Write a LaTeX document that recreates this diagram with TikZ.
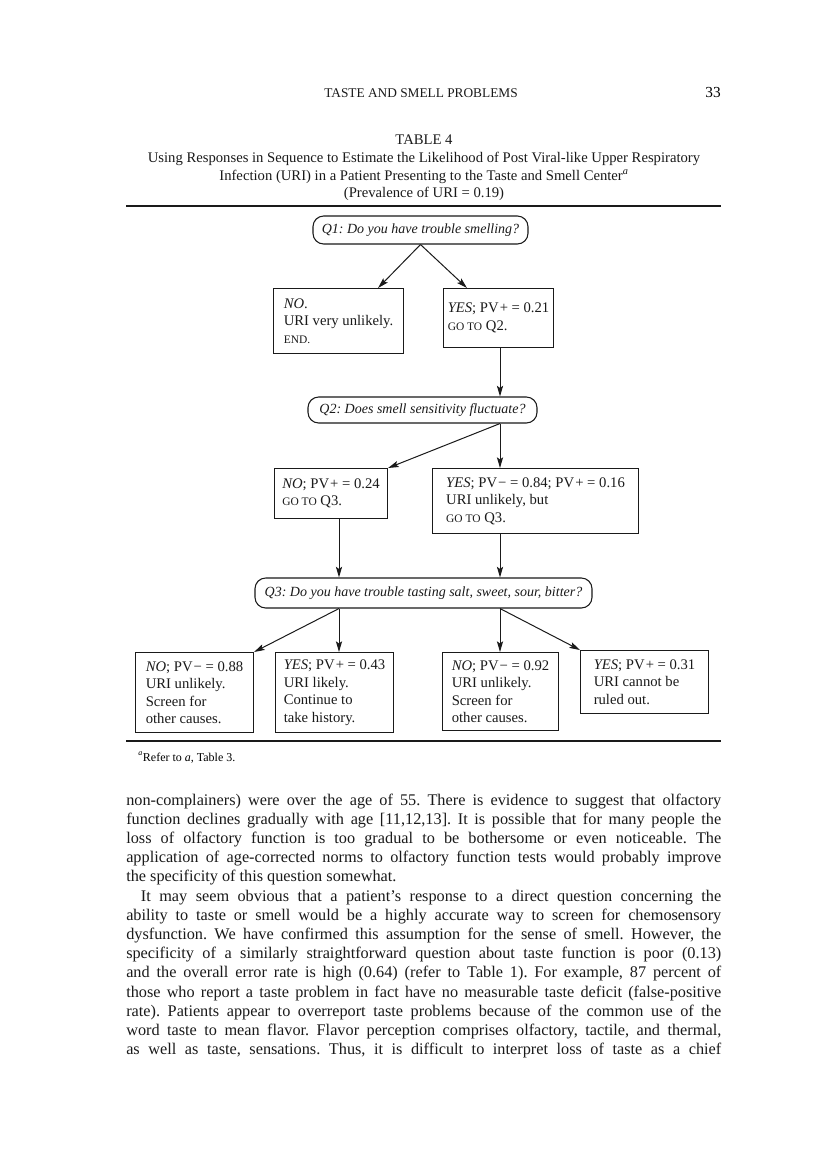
\documentclass[tikz,border=0pt]{standalone}
\usepackage{fontspec}
\setmainfont{Liberation Serif}
\usetikzlibrary{arrows.meta,calc}
\definecolor{inkblack}{HTML}{1A1A1A}
\tikzset{
  question/.style ={rectangle, rounded corners=8pt, draw=inkblack, line width=0.8pt,
                    inner sep=0pt, font=\fontsize{10.5}{12}\selectfont\itshape, text=inkblack},
  answer/.style   ={rectangle, draw=inkblack, line width=0.8pt, anchor=north west,
                    align=left, inner sep=0pt, font=\fontsize{11}{13.1}\selectfont, text=inkblack},
  flow/.style     ={draw=inkblack, line width=0.75pt,
                    -{Stealth[length=8pt,width=4.6pt,inset=1.6pt]}},
  hrule/.style    ={draw=inkblack, line width=1.5pt},
  bodytext/.style ={anchor=base west, inner sep=0pt, font=\fontsize{12.2}{14.4}\selectfont, text=inkblack},
  titletext/.style={anchor=base, inner sep=0pt, font=\fontsize{11}{13}\selectfont, text=inkblack},
}
\newcommand{\smallcap}[1]{{\fontsize{8.6}{10}\selectfont #1}}
\newcommand{\pvplus}{PV\kern0.8pt+}
\newcommand{\pvminus}{PV\kern0.8pt−}
\newcommand{\fullline}[3]{\node[bodytext] (#1) at (126,#2) {\makebox[446.25pt][s]{#3}};}
\newcommand{\lastline}[3]{\node[bodytext] (#1) at (126,#2) {#3};}
\frenchspacing

\begin{document}
\begin{tikzpicture}[x=0.75pt, y=-0.75pt]
\fill[white] (0,0) rectangle (816,1158);
\useasboundingbox (0,0) rectangle (816,1158);

% ---------------- running head ----------------
\node[titletext, font=\fontsize{10}{12}\selectfont] (runhead) at (421,97) {TASTE AND SMELL PROBLEMS};
\node[anchor=base east, inner sep=0pt, font=\fontsize{11.5}{13}\selectfont] (pageno) at (721,97) {33};

% ---------------- table title ----------------
\node[titletext] (tabno)  at (424,144) {TABLE 4};
\node[titletext] (title1) at (424,162) {Using Responses in Sequence to Estimate the Likelihood of Post Viral-like Upper Respiratory};
\node[titletext] (title2) at (424,180) {Infection (URI) in a Patient Presenting to the Taste and Smell Center\textsuperscript{\itshape a}};
\node[titletext] (title3) at (424,197) {(Prevalence of URI = 0.19)};
\draw[hrule] (126,206) -- (721,206);

% ---------------- questions ----------------
\node[question, minimum width=161.25pt, minimum height=21pt]   (q1) at (420.5,230) {Q1: Do you have trouble smelling?};
\node[question, minimum width=171.75pt, minimum height=19.5pt] (q2) at (422.5,410) {Q2: Does smell sensitivity fluctuate?};
\node[question, minimum width=252.75pt, minimum height=22.5pt] (q3) at (423.5,593) {Q3: Do you have trouble tasting salt, sweet, sour, bitter?};

% ---------------- answers ----------------
\node[answer, minimum width=97.5pt,  minimum height=48.75pt] (no1)  at (273,288)
      {\textit{NO}.\\URI very unlikely.\\\smallcap{END.}};
\node[answer, minimum width=82.5pt,  minimum height=44.25pt] (yes1) at (443,288)
      {\textit{YES}; \pvplus{} = 0.21\\\smallcap{GO TO} Q2.};
\node[answer, minimum width=84.75pt, minimum height=37.5pt]  (no2)  at (274,468)
      {\textit{NO}; \pvplus{} = 0.24\\\smallcap{GO TO} Q3.};
\node[answer, minimum width=154.5pt, minimum height=48.75pt] (yes2) at (432,468)
      {\textit{YES}; \pvminus{} = 0.84; \pvplus{} = 0.16\\URI unlikely, but\\\smallcap{GO TO} Q3.};
\node[answer, minimum width=88.5pt,  minimum height=60pt]    (b1)   at (135,652)
      {\textit{NO}; \pvminus{} = 0.88\\URI unlikely.\\Screen for\\other causes.};
\node[answer, minimum width=88.5pt,  minimum height=60pt]    (b2)   at (275,652)
      {\textit{YES}; \pvplus{} = 0.43\\URI likely.\\Continue to\\take history.};
\node[answer, minimum width=87pt,    minimum height=58.5pt]  (b3)   at (442,652)
      {\textit{NO}; \pvminus{} = 0.92\\URI unlikely.\\Screen for\\other causes.};
\node[answer, minimum width=96pt,    minimum height=47.25pt] (b4)   at (580,650)
      {\textit{YES}; \pvplus{} = 0.31\\URI cannot be\\ruled out.};

% ---------------- connectors ----------------
\coordinate (lcol) at (339,0);
\coordinate (rcol) at (500,0);
\draw[flow] (q1.south) -- ($(no1.north east)+(-26,0)$);
\draw[flow] (q1.south) -- ($(yes1.north west)+(24,0)$);
\draw[flow] (rcol |- yes1.south) -- (rcol |- q2.north);
\draw[flow] (rcol |- q2.south) -- (no2.north east);
\draw[flow] (rcol |- q2.south) -- (rcol |- yes2.north);
\draw[flow] (lcol |- no2.south) -- (lcol |- q3.north);
\draw[flow] (rcol |- yes2.south) -- (rcol |- q3.north);
\draw[flow] (lcol |- q3.south) -- (b1.north east);
\draw[flow] (lcol |- q3.south) -- (lcol |- b2.north);
\draw[flow] (rcol |- q3.south) -- (rcol |- b3.north);
\draw[flow] (rcol |- q3.south) -- (b4.north west);

% ---------------- footnote ----------------
\draw[hrule] (126,741) -- (721,741);
\node[anchor=base west, inner sep=0pt, font=\fontsize{9}{11}\selectfont] (fnote) at (138,761)
      {\textsuperscript{\itshape a}Refer to \textit{a}, Table 3.};

% ---------------- body text ----------------
\fullline{l1}{805}{non-complainers) were over the age of 55. There is evidence to suggest that olfactory}
\fullline{l2}{824.2}{function declines gradually with age [11,12,13]. It is possible that for many people the}
\fullline{l3}{843.4}{loss of olfactory function is too gradual to be bothersome or even noticeable. The}
\fullline{l4}{862.6}{application of age-corrected norms to olfactory function tests would probably improve}
\lastline{l5}{881.8}{the specificity of this question somewhat.}
\fullline{l6}{901}{\hspace*{11pt}It may seem obvious that a patient’s response to a direct question concerning the}
\fullline{l7}{920.2}{ability to taste or smell would be a highly accurate way to screen for chemosensory}
\fullline{l8}{939.4}{dysfunction. We have confirmed this assumption for the sense of smell. However, the}
\fullline{l9}{958.6}{specificity of a similarly straightforward question about taste function is poor (0.13)}
\fullline{l10}{977.8}{and the overall error rate is high (0.64) (refer to Table 1). For example, 87 percent of}
\fullline{l11}{997}{those who report a taste problem in fact have no measurable taste deficit (false-positive}
\fullline{l12}{1016.2}{rate). Patients appear to overreport taste problems because of the common use of the}
\fullline{l13}{1035.4}{word taste to mean flavor. Flavor perception comprises olfactory, tactile, and thermal,}
\fullline{l14}{1054.6}{as well as taste, sensations. Thus, it is difficult to interpret loss of taste as a chief}

\end{tikzpicture}
\end{document}
